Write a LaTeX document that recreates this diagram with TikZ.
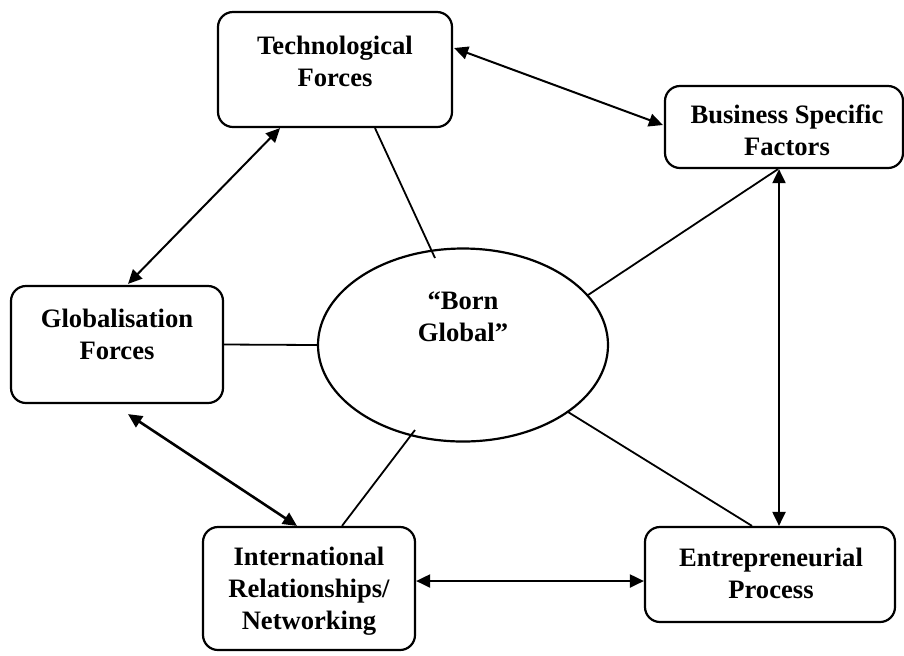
\documentclass[tikz,border=0pt]{standalone}
\usepackage{fontspec}
\setmainfont{Liberation Serif}
\usetikzlibrary{arrows.meta,calc,shapes.geometric}
\begin{document}
\begin{tikzpicture}[x=0.5pt,y=-0.5pt,
  box/.style={draw,line width=1.1pt,rounded corners=7.5pt,inner sep=0pt},
  lbl/.style={font=\bfseries\fontsize{13.3pt}{16pt}\selectfont,align=center,inner sep=0pt},
  conn/.style={line width=0.9pt},
  biarrow/.style={line width=1pt,{Triangle[length=7pt,width=6.5pt]}-{Triangle[length=7pt,width=6.5pt]}}]
\useasboundingbox (0,0) rectangle (904,655);
% boxes
\node[box,minimum width=117pt,minimum height=57.5pt] (tech) at (335,69.5) {};
\node[box,minimum width=119pt,minimum height=41pt] (biz) at (784,127) {};
\node[box,minimum width=106pt,minimum height=58.5pt] (glob) at (117,344.5) {};
\node[box,minimum width=106pt,minimum height=61.5pt] (intl) at (309,588.5) {};
\node[box,minimum width=125pt,minimum height=47.5pt] (entre) at (770,574.5) {};
\node[draw,ellipse,line width=1.1pt,minimum width=145pt,minimum height=96.5pt,inner sep=0pt] (born) at (463,345) {};
% labels
\node[lbl] (techl) at (335,61) {Technological\\Forces};
\node[lbl] (bizl) at (787,130) {Business Specific\\Factors};
\node[lbl] (globl) at (117,334) {Globalisation\\Forces};
\node[lbl] (bornl) at (463,317) {“Born\\Global”};
\node[lbl] (intll) at (309,591) {International\\Relationships/\\Networking};
\node[lbl] (entrel) at (771,573.5) {Entrepreneurial\\Process};
% arrows
\draw[biarrow] ($(tech.east)+(1,-21.5)$) -- ($(biz.west)+(-1,-2)$);
\draw[biarrow] ($(biz.south)+(-5,0)$) -- ($(entre.north)+(9,0)$);
\draw[biarrow] ($(tech.south)+(-55,0)$) -- ($(glob.north)+(11,-1)$);
\draw[biarrow,line width=1.3pt] ($(glob.south)+(11,10)$) -- ($(intl.north)+(-12,0)$);
\draw[biarrow] ($(intl.east)+(0,-7.5)$) -- ($(entre.west)+(0,6.5)$);
% plain lines
\draw[conn] ($(tech.south)+(40,0)$) -- ($(born.center)+(-28,-87)$);
\draw[conn] ($(biz.south)+(-6,0)$) -- ($(born.center)+(125,-50)$);
\draw[conn] (glob.east) -- (born.west);
\draw[conn] ($(intl.north)+(33,0)$) -- ($(born.center)+(-48,85)$);
\draw[conn] ($(entre.north)+(-18,0)$) -- ($(born.center)+(105,67)$);
\end{tikzpicture}
\end{document}
